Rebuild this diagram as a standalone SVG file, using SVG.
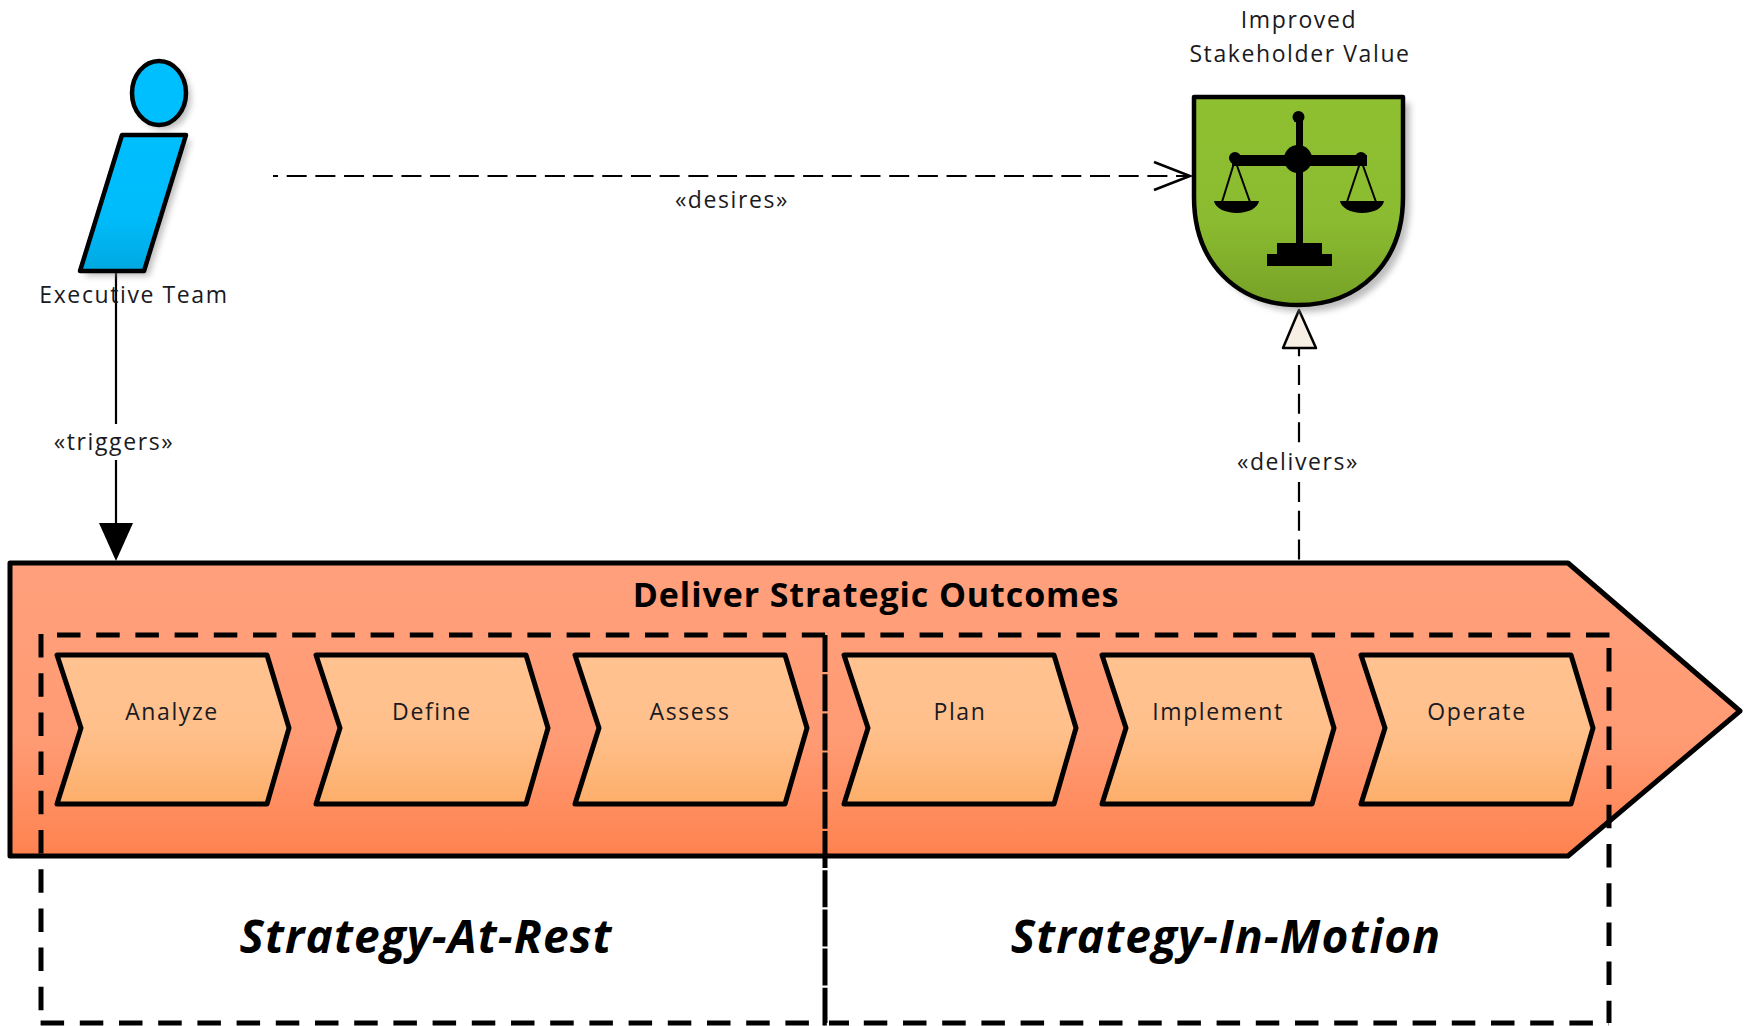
<svg xmlns="http://www.w3.org/2000/svg" xmlns:xlink="http://www.w3.org/1999/xlink" width="1744" height="1026" viewBox="0 0 1744 1026">
<style>
text{font-family:"Open Sans","Noto Sans","Liberation Sans",sans-serif;fill:#1a1a22;text-anchor:middle}
.lab,.step{font-size:23px;letter-spacing:1.6px}
.big{font-size:46px;font-weight:700;font-style:italic;fill:#000;letter-spacing:1.15px}
.title{font-size:34px;font-weight:700;fill:#000;letter-spacing:.9px}
.ol{stroke:#000;stroke-width:4.5;stroke-linejoin:round}
.dash{fill:none;stroke:#000;stroke-width:5;stroke-dasharray:23.5 15.7}
.conn{fill:none;stroke:#000;stroke-width:2.2}
.dl{stroke-dasharray:20 8.69}
.chev{fill:url(#gC);stroke:#000;stroke-width:5;stroke-linejoin:round}
</style>
<defs>
<linearGradient id="gB" x1="0" y1="0" x2="0" y2="1"><stop offset="0" stop-color="#ffa07c"/><stop offset=".6" stop-color="#ff9b74"/><stop offset="1" stop-color="#ff8250"/></linearGradient>
<linearGradient id="gC" x1="0" y1="0" x2="0" y2="1"><stop offset="0" stop-color="#ffc290"/><stop offset=".5" stop-color="#ffc08c"/><stop offset="1" stop-color="#fdae6a"/></linearGradient>
<linearGradient id="gA" x1="0" y1="0" x2="0" y2="1"><stop offset="0" stop-color="#00bfff"/><stop offset=".6" stop-color="#00bcfb"/><stop offset="1" stop-color="#00a8e0"/></linearGradient>
<linearGradient id="gG" x1="0" y1="0" x2="0" y2="1"><stop offset="0" stop-color="#8fc031"/><stop offset=".6" stop-color="#8bbb30"/><stop offset="1" stop-color="#76a227"/></linearGradient>
<filter id="sh" x="-20%" y="-20%" width="150%" height="150%"><feGaussianBlur stdDeviation="3"/></filter>
<marker id="openA" markerUnits="userSpaceOnUse" markerWidth="44" markerHeight="36" refX="38" refY="18" orient="auto"><path d="M2 4L38 18L2 32" fill="none" stroke="#000" stroke-width="2.5"/></marker>
<path id="c" class="chev" d="M0 0H210L232 73L210 149H0L24 73Z"/>
</defs>

<g id="connectors">
<path class="conn" d="M116 271V424M116 460V524"/>
<path d="M99 523H133L116 561Z" fill="#000"/>
<path class="conn dl" stroke-dashoffset="15" d="M273 176H1190" marker-end="url(#openA)"/>
<path class="conn dl" stroke-dashoffset="12.700" d="M1299 349V443"/>
<path class="conn dl" d="M1299 482V560"/>
<path d="M1299 310L1316 348H1283Z" fill="#f8efe4" stroke="#000" stroke-width="2.5" stroke-linejoin="round"/>
<text class="lab" x="732" y="208">«desires»</text>
<text class="lab" x="114" y="450">«triggers»</text>
<text class="lab" x="1298" y="470">«delivers»</text>
</g>

<g id="banner">
<path d="M10 563H1568L1740 711L1568 856H10Z" fill="url(#gB)" stroke="#000" stroke-width="5" stroke-linejoin="round"/>
<text class="title" x="876" y="607">Deliver Strategic Outcomes</text>
</g>

<g id="analyze"><use xlink:href="#c" href="#c" x="57" y="655"/><text class="step" x="172" y="720">Analyze</text></g>
<g id="define"><use xlink:href="#c" href="#c" x="316" y="655"/><text class="step" x="432" y="720">Define</text></g>
<g id="assess"><use xlink:href="#c" href="#c" x="575" y="655"/><text class="step" x="690" y="720">Assess</text></g>
<g id="plan"><use xlink:href="#c" href="#c" x="844" y="655"/><text class="step" x="960" y="720">Plan</text></g>
<g id="implement"><use xlink:href="#c" href="#c" x="1102" y="655"/><text class="step" x="1218" y="720">Implement</text></g>
<g id="operate"><use xlink:href="#c" href="#c" x="1361" y="655"/><text class="step" x="1477" y="720">Operate</text></g>

<g id="strategy-at-rest">
<path class="dash" d="M41 634V1023"/>
<path class="dash" d="M57 635H825"/>
<path class="dash" d="M40.600 1023H825"/>
<text class="big" x="426" y="953">Strategy-At-Rest</text>
</g>
<g id="strategy-in-motion">
<path class="dash" d="M841.200 635H1609.500"/>
<path class="dash" d="M1609 648V1023"/>
<path class="dash" d="M863.800 1023H1609"/>
<path d="M825 635V1023H849" fill="none" stroke="#000" stroke-width="5" stroke-dasharray="37 2.2"/>
<text class="big" x="1226" y="953">Strategy-In-Motion</text>
</g>

<g id="executive-team">
<ellipse cx="164" cy="98" rx="27" ry="32" fill="#888" opacity=".55" filter="url(#sh)"/>
<path d="M127 140H191L149 276H85Z" fill="#888" opacity=".55" filter="url(#sh)"/>
<ellipse cx="159" cy="93" rx="27" ry="32" fill="#00bfff" class="ol"/>
<path d="M122 135H186L144 271H80Z" fill="url(#gA)" class="ol"/>
<text class="lab" x="134" y="303">Executive Team</text>
</g>

<g id="improved-stakeholder-value">
<path d="M1200 103H1410V203C1410 269 1366 312 1305 312C1244 312 1200 269 1200 203Z" fill="#888" opacity=".55" filter="url(#sh)"/>
<path d="M1194 97H1403V197C1403 263 1359 305 1298 305C1237 305 1194 263 1194 197Z" fill="url(#gG)" class="ol"/>
<path d="M1296 119h7v125h-7z M1232 155h135v11h-135z M1277 243h45v11h-45z M1267 254h65v12h-65z"/>
<circle cx="1298.500" cy="117" r="6"/><circle cx="1298" cy="159" r="14"/><circle cx="1235" cy="158" r="6"/><circle cx="1361" cy="158" r="6"/>
<path d="M1235 160L1222 202M1235 160L1250 202M1361 160L1347 202M1361 160L1376 202" fill="none" stroke="#000" stroke-width="2"/>
<path d="M1214 201H1259C1258 208 1248 213 1237 213C1225 213 1215 208 1214 201Z"/>
<path d="M1340 201H1384C1383 208 1374 213 1362 213C1351 213 1341 208 1340 201Z"/>
<text class="lab" x="1299" y="28">Improved</text>
<text class="lab" x="1300" y="62">Stakeholder Value</text>
</g>
</svg>
